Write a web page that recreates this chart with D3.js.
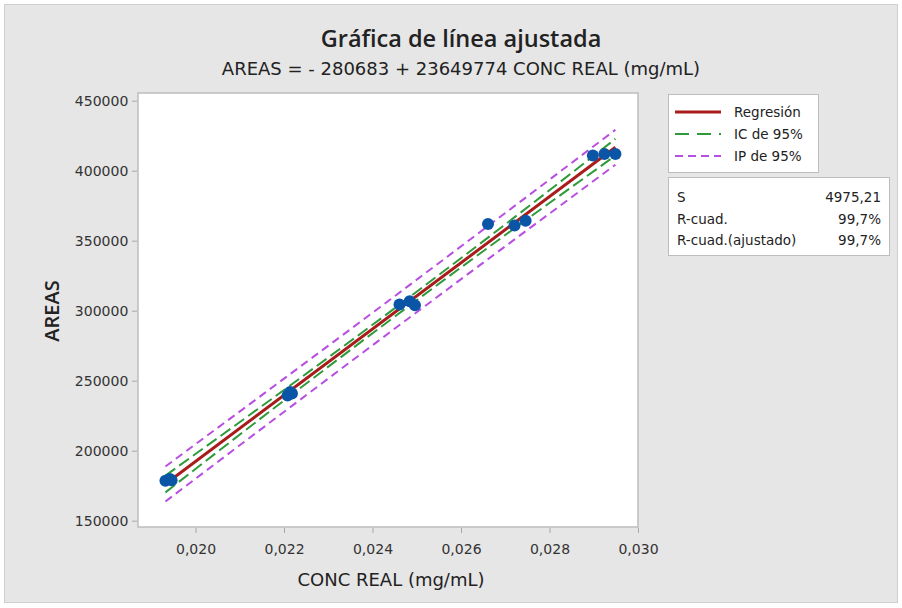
<!DOCTYPE html>
<html><head><meta charset="utf-8">
<script src="https://cdn.jsdelivr.net/npm/d3@7"></script>
<style>body{margin:0;background:#fff}svg{display:block;font-family:"DejaVu Sans","Noto Sans",sans-serif}</style>
</head><body>
<svg id="c" width="902" height="608"></svg>
<script>
const concReal = [0.01932,0.01942,0.01946, 0.02208,0.02214,0.02218, 0.02461,0.02484,0.02496, 0.02661,0.02721,0.02746, 0.02898,0.02924,0.02949];
const areas    = [178500,179800,178900, 239500,242000,240800, 304500,306800,303900, 361900,360900,364300, 410900,411900,411900];
const intercept = -280683, slope = 23649774;
const bandX  = [0.01932, 0.0218, 0.0244, 0.0270, 0.02949];
const ciHalf = [6000, 3900, 3000, 3800, 6000];
const piHalf = [12500, 11900, 11600, 11900, 12500];
const xTicks = [0.020,0.022,0.024,0.026,0.028,0.030];
const yTicks = [150000,200000,250000,300000,350000,400000,450000];
const legendItems = ["Regresión","IC de 95%","IP de 95%"];
const statLabels = ["S","R-cuad.","R-cuad.(ajustado)"];
const statValues = ["4975,21","99,7%","99,7%"];

const svg = d3.select("#c");
svg.append("rect").attr("x",4.5).attr("y",4.5).attr("width",893).attr("height",598).attr("fill","#e6e6e6").attr("stroke","#cfcfcf");

const L=138,R=638,T=93,B=527;
const x = d3.scaleLinear().domain([0.0187,0.0300]).range([L,R]);
const y = d3.scaleLinear().domain([145500,455500]).range([B,T]);
svg.append("rect").attr("x",L).attr("y",T).attr("width",R-L).attr("height",B-T).attr("fill","#fff").attr("stroke","#bdbdbd").attr("stroke-width",1.5);

const fmtX = d => d3.format(".3f")(d).replace(".",",");
const gx = svg.append("g").attr("transform",`translate(0,${B+1})`).call(d3.axisBottom(x).tickValues(xTicks).tickFormat(fmtX).tickSize(5).tickSizeOuter(0));
const gy = svg.append("g").attr("transform",`translate(${L-1},0)`).call(d3.axisLeft(y).tickValues(yTicks).tickFormat(d3.format("d")).tickSize(5).tickSizeOuter(0));
[gx,gy].forEach(g=>{g.select(".domain").remove();g.selectAll("line").attr("stroke","#a8a8a8");g.selectAll("text").attr("fill","#333").attr("font-size",14).attr("font-family","DejaVu Sans");});
gx.selectAll("text").attr("dy","1.25em");
gy.selectAll("text").attr("dx","-0.05em");

const fit = v => intercept + slope*v;
const line = d3.line().x(d=>x(d[0])).y(d=>y(d[1])).curve(d3.curveMonotoneX);
const band = (arr,s) => bandX.map((v,i)=>[v, fit(v)+s*arr[i]]);
const g = svg.append("g");
[1,-1].forEach(s=>{
  g.append("path").attr("d",line(band(piHalf,s))).attr("fill","none").attr("stroke","#b94fe0").attr("stroke-width",2).attr("stroke-dasharray","8,5");
});
[1,-1].forEach(s=>{
  g.append("path").attr("d",line(band(ciHalf,s))).attr("fill","none").attr("stroke","#2e9a3a").attr("stroke-width",2).attr("stroke-dasharray","12,5");
});
const xMin = d3.min(concReal), xMax = d3.max(concReal);
g.append("path").attr("d",line([[xMin,fit(xMin)],[xMax,fit(xMax)]])).attr("fill","none").attr("stroke","#a81c1c").attr("stroke-width",3);
g.selectAll("circle").data(concReal).join("circle").attr("cx",d=>x(d)).attr("cy",(d,i)=>y(areas[i])).attr("r",6).attr("fill","#0a55a6");

svg.append("text").attr("x",461).attr("y",47).attr("text-anchor","middle").attr("font-family","Open Sans").attr("font-size",23.5).attr("font-weight",600).attr("fill","#222").text("Gráfica de línea ajustada");
svg.append("text").attr("x",461).attr("y",75).attr("text-anchor","middle").attr("font-size",18).attr("fill","#222").text("AREAS = - 280683 + 23649774 CONC REAL (mg/mL)");
svg.append("text").attr("x",391).attr("y",586).attr("text-anchor","middle").attr("font-size",18).attr("fill","#222").text("CONC REAL (mg/mL)");
svg.append("text").attr("transform","translate(59,311) rotate(-90)").attr("text-anchor","middle").attr("font-family","Open Sans").attr("font-size",20).attr("font-weight",600).attr("fill","#222").text("AREAS");

// legend
const lg = svg.append("g");
lg.append("rect").attr("x",668.5).attr("y",94.5).attr("width",150).attr("height",78).attr("fill","#fff").attr("stroke","#bdbdbd");
const styles = [{c:"#a81c1c",w:3,d:null},{c:"#2e9a3a",w:2,d:"14,8"},{c:"#b94fe0",w:2,d:"8,5"}];
legendItems.forEach((t,i)=>{
  const yy = 112+i*22;
  lg.append("line").attr("x1",675).attr("x2",721).attr("y1",yy).attr("y2",yy).attr("stroke",styles[i].c).attr("stroke-width",styles[i].w).attr("stroke-dasharray",styles[i].d);
  lg.append("text").attr("x",734).attr("y",yy+5).attr("font-size",13.5).attr("fill","#222").text(t);
});
const sg = svg.append("g");
sg.append("rect").attr("x",668.5).attr("y",177.5).attr("width",221).attr("height",78).attr("fill","#fff").attr("stroke","#bdbdbd");
statLabels.forEach((t,i)=>{
  const yy = 197+i*21.5;
  sg.append("text").attr("x",677).attr("y",yy+5).attr("font-size",13.5).attr("fill","#222").text(t);
  sg.append("text").attr("x",881).attr("y",yy+5).attr("text-anchor","end").attr("font-size",13.5).attr("fill","#222").text(statValues[i]);
});
</script>
</body></html>
